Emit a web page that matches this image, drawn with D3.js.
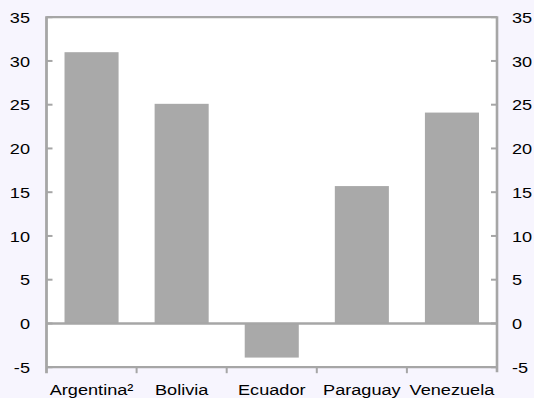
<!DOCTYPE html>
<html><head><meta charset="utf-8">
<script src="https://cdn.jsdelivr.net/npm/d3@7"></script>
<style>
html,body{margin:0;padding:0;background:#F7F5FE;}
svg{display:block;}
text{font-family:"Liberation Sans",Arial,sans-serif;font-size:15.5px;fill:#000;}
</style></head><body>
<svg id="c" width="534" height="398"></svg>
<script>
const categories = ["Argentina²","Bolivia","Ecuador","Paraguay","Venezuela"];
const values = [31.0, 25.1, -3.9, 15.7, 24.1];
const yTicks = [-5,0,5,10,15,20,25,30,35];

const W=534,H=398;
const L=46.5,R=497,T=17.2,B=367.2;
const SX=1.17;
const svg=d3.select("#c");
const axisColor="#A6A6A6", barColor="#A9A9A9";

svg.append("rect").attr("x",L).attr("y",T).attr("width",R-L).attr("height",B-T).attr("fill","#fff");

const x=d3.scaleBand().domain(categories).range([L,R]).paddingInner(0.4).paddingOuter(0.2);
const xb=d3.scaleLinear().domain([0,categories.length]).range([L,R]);
const y=d3.scaleLinear().domain([-5,35]).range([B,T]);

svg.selectAll("rect.bar").data(values).enter().append("rect")
  .attr("class","bar")
  .attr("x",(d,i)=>x(categories[i]))
  .attr("width",x.bandwidth())
  .attr("y",d=>y(Math.max(0,d)))
  .attr("height",d=>Math.abs(y(d)-y(0)))
  .attr("fill",barColor);

svg.append("line").attr("x1",L).attr("x2",R).attr("y1",y(0)).attr("y2",y(0))
  .attr("stroke",axisColor).attr("stroke-width",2.5);

svg.append("line").attr("x1",L).attr("x2",R).attr("y1",T).attr("y2",T).attr("stroke",axisColor).attr("stroke-width",2.2);
svg.append("line").attr("x1",L).attr("x2",R).attr("y1",B).attr("y2",B).attr("stroke",axisColor).attr("stroke-width",2.2);
svg.append("line").attr("x1",L).attr("x2",L).attr("y1",T-1).attr("y2",B+6).attr("stroke",axisColor).attr("stroke-width",2.8);
svg.append("line").attr("x1",R).attr("x2",R).attr("y1",T-1).attr("y2",B+5).attr("stroke",axisColor).attr("stroke-width",2.6);

function label(px,py,anchor,txt){
  svg.append("text")
    .attr("transform",`translate(${px},${py}) scale(${SX},1)`)
    .attr("dy","0.36em").attr("text-anchor",anchor).text(txt);
}

yTicks.forEach(t=>{
  svg.append("line").attr("x1",L).attr("x2",L+6).attr("y1",y(t)).attr("y2",y(t)).attr("stroke",axisColor).attr("stroke-width",2);
  svg.append("line").attr("x1",R-6).attr("x2",R).attr("y1",y(t)).attr("y2",y(t)).attr("stroke",axisColor).attr("stroke-width",2);
  label(30,y(t),"end",t);
  label(512,y(t),"start",t);
});

d3.range(1,categories.length).forEach(i=>{
  svg.append("line").attr("x1",xb(i)).attr("x2",xb(i)).attr("y1",B).attr("y2",B+6).attr("stroke",axisColor).attr("stroke-width",2);
});

categories.forEach(c=>{
  svg.append("text")
    .attr("transform",`translate(${x(c)+x.bandwidth()/2},394.5) scale(${SX},1)`)
    .attr("text-anchor","middle").text(c);
});
</script>
</body></html>
